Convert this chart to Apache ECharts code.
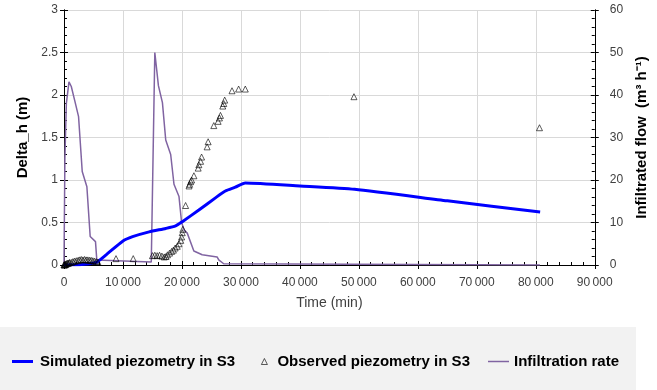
<!DOCTYPE html>
<html>
<head>
<meta charset="utf-8">
<script src="https://cdn.jsdelivr.net/npm/echarts@6/dist/echarts.min.js"></script>
<style>html,body{margin:0;padding:0;background:#fff}#c{width:657px;height:390px}</style>
</head>
<body>
<div id="c"></div>
<script>
// ---- data ----
var xTicks = [0, 10000, 20000, 30000, 40000, 50000, 60000, 70000, 80000, 90000];
var simTime  = [0, 3000, 5460, 7150, 9950, 11630, 14440, 17250, 18930, 20060, 22870, 25680, 27360, 29050, 30740, 40000, 49280, 65000, 80740];
var simValue = [0, 0.005, 0.03, 0.12, 0.28, 0.333, 0.39, 0.43, 0.46, 0.51, 0.647, 0.79, 0.87, 0.915, 0.965, 0.93, 0.89, 0.755, 0.624];

var infTime  = [0, 150, 400, 843, 1236, 1800, 2470, 3090, 3880, 4440, 5340, 5560, 5730, 14800, 15400, 16010, 16690, 17250, 18090, 18650, 19500, 19940, 20390, 20900, 22020, 23430, 25960, 26240, 27080, 27400, 80700];
var infValue = [0, 25, 38, 43.1, 42, 38.8, 34.9, 22, 18.4, 6.7, 5.5, 1.2, 0.8, 0.7, 50, 42.2, 38.2, 29.4, 26, 19, 16.1, 10, 8.2, 7.5, 3.3, 2.4, 1.9, 1.2, 0.3, 0, 0];

var obsTime  = [0, 50, 120, 200, 300, 400, 550, 680, 850, 960, 1250, 1520, 1800, 2090, 2400, 2650, 2930, 3210, 3490, 3770, 4050, 4330, 4600, 4890, 5170, 5460, 5750,
                8820, 11740,
                15000, 15400, 15800, 16200, 16600, 17000, 17300, 17550, 17900, 18250, 18550, 18850, 19200, 19500, 19800, 19950, 20050, 20150, 20620,
                21200, 21300, 21470, 21640, 22030, 22750, 22870, 23160, 23330, 24270, 24440, 25400, 26130, 26360, 26530, 26920, 27090, 27250, 28490, 29610, 30740,
                49170, 80630];
var obsValue = [0, 0.005, 0, 0.01, 0.005, 0.015, 0.02, 0.02, 0.025, 0.03, 0.03, 0.04, 0.045, 0.05, 0.055, 0.06, 0.065, 0.06, 0.065, 0.06, 0.06, 0.055, 0.055, 0.05, 0.045, 0.04, 0.035,
                0.075, 0.075,
                0.11, 0.115, 0.11, 0.115, 0.105, 0.095, 0.10, 0.12, 0.14, 0.16, 0.175, 0.20, 0.22, 0.25, 0.29, 0.33, 0.38, 0.42, 0.70,
                0.93, 0.95, 0.98, 1.0, 1.05, 1.14, 1.18, 1.22, 1.27, 1.39, 1.45, 1.64, 1.69, 1.73, 1.76, 1.87, 1.90, 1.94, 2.05, 2.07, 2.07,
                1.98, 1.615];

var names = ['Simulated piezometry in S3', 'Observed piezometry in S3', 'Infiltration rate'];

function zip(a, b) { return a.map(function (t, i) { return [t, b[i]]; }); }
function fmtX(v) { return v === 0 ? '0' : (v / 1000) + '\u2009000'; }

var FONT = 'Liberation Sans';
var labelStyle = { color: '#404040', fontSize: 12, fontFamily: FONT };
var legendText = { color: '#000', fontSize: 15, fontWeight: 'bold', fontFamily: FONT };

var baseX = {
  type: 'value', min: 0, max: 90000, interval: 10000,
  axisLine: { show: true, lineStyle: { color: '#000', width: 1 } },
  splitLine: { show: false }
};
var baseYL = { type: 'value', position: 'left', min: 0, max: 3, interval: 0.5,
  axisLine: { show: true, onZero: false, lineStyle: { color: '#000' } }, splitLine: { show: false } };
var baseYR = { type: 'value', position: 'right', min: 0, max: 60, interval: 10,
  axisLine: { show: true, onZero: false, lineStyle: { color: '#000' } }, splitLine: { show: false } };

var chart = echarts.init(document.getElementById('c'), null, { renderer: 'canvas' });
chart.setOption({
  animation: false,
  backgroundColor: '#fff',
  graphic: [{ type: 'rect', shape: { x: 0, y: 327, width: 636, height: 70 }, style: { fill: '#f2f2f2' }, z: -10 }],
  grid: { left: 64, right: 59, top: 10, bottom: 125 },
  xAxis: [
    Object.assign({}, baseX, {
      name: 'Time (min)', nameLocation: 'middle', nameGap: 31,
      nameTextStyle: { color: '#404040', fontSize: 14, fontFamily: FONT },
      axisTick: { show: true, inside: false, length: 4, lineStyle: { color: '#000' } },
      axisLabel: Object.assign({ formatter: fmtX, margin: 12 }, labelStyle),
      splitLine: { show: true, lineStyle: { color: '#d9d9d9', width: 1 } }
    }),
    Object.assign({}, baseX, {
      position: 'bottom',
      axisTick: { show: true, inside: true, length: 4, lineStyle: { color: '#000' } },
      minorTick: { show: true, splitNumber: 5, length: 3, lineStyle: { color: '#000' } },
      axisLabel: { show: false }
    })
  ],
  yAxis: [
    Object.assign({}, baseYL, {
      name: 'Delta_h (m)', nameLocation: 'middle', nameGap: 34,
      nameTextStyle: { color: '#000', fontSize: 15, fontWeight: 'bold', fontFamily: FONT },
      axisTick: { show: true, inside: false, length: 4, lineStyle: { color: '#000' } },
      axisLabel: Object.assign({ margin: 6 }, labelStyle),
      splitLine: { show: true, lineStyle: { color: '#d9d9d9', width: 1 } }
    }),
    Object.assign({}, baseYR, {
      name: 'Infiltrated flow  (m\u00B3 h\u207B\u00B9)', nameLocation: 'middle', nameGap: 35,
      nameTextStyle: { color: '#000', fontSize: 15, fontWeight: 'bold', fontFamily: FONT },
      axisTick: { show: true, inside: false, length: 4, lineStyle: { color: '#000' } },
      axisLabel: Object.assign({ margin: 15 }, labelStyle)
    }),
    Object.assign({}, baseYL, {
      axisTick: { show: true, inside: true, length: 4, lineStyle: { color: '#000' } },
      minorTick: { show: true, splitNumber: 5, length: 3, lineStyle: { color: '#000' } },
      axisLabel: { show: false }
    }),
    Object.assign({}, baseYR, {
      axisTick: { show: true, inside: true, length: 4, lineStyle: { color: '#000' } },
      minorTick: { show: true, splitNumber: 5, length: 3, lineStyle: { color: '#000' } },
      axisLabel: { show: false }
    })
  ],
  legend: [
    { data: [{ name: names[0], icon: 'rect', itemStyle: { color: '#0000ff' } }],
      left: 12, top: 354, padding: 0, itemWidth: 21, itemHeight: 3, itemGap: 0,
      textStyle: Object.assign({}, legendText, { padding: [0, 0, 0, 2] }) },
    { data: [{ name: names[1], icon: 'triangle', itemStyle: { color: 'rgba(255,255,255,0)', borderColor: '#000', borderWidth: 0.8 } }],
      left: 261, top: 354, padding: 0, itemWidth: 6, itemHeight: 6, itemGap: 0,
      textStyle: Object.assign({}, legendText, { padding: [0, 0, 0, 5] }) },
    { data: [{ name: names[2], icon: 'rect', itemStyle: { color: '#8064a2' } }],
      left: 488, top: 354, padding: 0, itemWidth: 21, itemHeight: 1.5, itemGap: 0, textStyle: legendText }
  ],
  series: [
    { name: names[2], type: 'line', xAxisIndex: 0, yAxisIndex: 1, data: zip(infTime, infValue),
      symbol: 'none', lineStyle: { color: '#8064a2', width: 1.5 }, itemStyle: { color: '#8064a2' }, z: 2 },
    { name: names[0], type: 'line', xAxisIndex: 0, yAxisIndex: 0, data: zip(simTime, simValue),
      symbol: 'none', smooth: 0.2, lineStyle: { color: '#0000ff', width: 3 }, itemStyle: { color: '#0000ff' }, z: 3 },
    { name: names[1], type: 'scatter', xAxisIndex: 0, yAxisIndex: 0, data: zip(obsTime, obsValue),
      symbol: 'triangle', symbolSize: [6, 6],
      itemStyle: { color: 'rgba(255,255,255,0)', borderColor: '#000', borderWidth: 0.8 }, z: 4 }
  ]
});
</script>
</body>
</html>
